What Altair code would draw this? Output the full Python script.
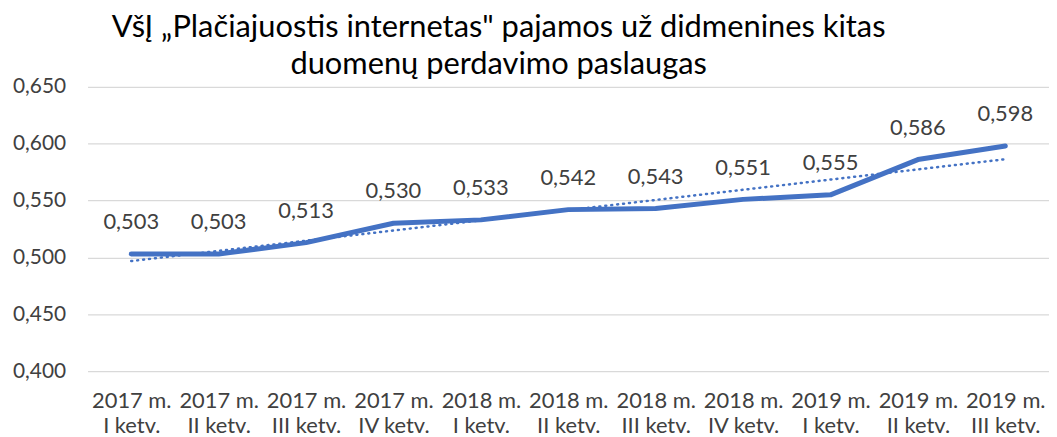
import altair as alt
import pandas as pd

years = ["2017 m.", "2017 m.", "2017 m.", "2017 m.", "2018 m.", "2018 m.", "2018 m.", "2018 m.", "2019 m.", "2019 m.", "2019 m."]
quarters = ["I ketv.", "II ketv.", "III ketv.", "IV ketv.", "I ketv.", "II ketv.", "III ketv.", "IV ketv.", "I ketv.", "II ketv.", "III ketv."]
values = [0.503, 0.503, 0.513, 0.530, 0.533, 0.542, 0.543, 0.551, 0.555, 0.586, 0.598]
title_lines = ["VšĮ  „Plačiajuostis internetas\" pajamos už didmenines kitas", "duomenų perdavimo paslaugas"]

labels = [f"{y}|{q}" for y, q in zip(years, quarters)]
df = pd.DataFrame({"idx": list(range(len(values))), "value": values, "label": labels})

FONT = "Lato"
COLOR = "#4472C4"
TXT = "#404040"

arr = "[" + ",".join("'" + l + "'" for l in labels) + "]"

x = alt.X(
    "idx:Q",
    scale=alt.Scale(domain=[-0.5, len(values) - 0.5], nice=False, zero=False),
    axis=alt.Axis(
        values=list(range(len(values))),
        labelExpr=f"split({arr}[datum.value], '|')",
        grid=False, domain=False, ticks=False, title=None,
        labelFont=FONT, labelFontSize=22, labelColor=TXT, labelPadding=20,
        labelLineHeight=25, labelBaseline="top",
    ),
)
y = alt.Y(
    "value:Q",
    scale=alt.Scale(domain=[0.4, 0.65], nice=False, zero=False),
    axis=alt.Axis(
        values=[0.4, 0.45, 0.5, 0.55, 0.6, 0.65],
        labelExpr="replace(format(datum.value, '.3f'), '.', ',')",
        grid=True, gridColor="#D9D9D9", gridWidth=1.2,
        domain=False, ticks=False, title=None,
        labelFont=FONT, labelFontSize=21, labelColor=TXT, labelPadding=22,
    ),
)

base = alt.Chart(df)
line = base.mark_line(color=COLOR, strokeWidth=5, strokeCap="round", strokeJoin="round").encode(x=x, y=y)
trend = base.transform_regression("idx", "value").mark_line(
    color=COLOR, strokeWidth=2.5, strokeDash=[1, 5], strokeCap="round"
).encode(x=x, y=y)
text = base.transform_calculate(
    lab="replace(format(datum.value, '.3f'), '.', ',')"
).mark_text(font=FONT, fontSize=22, color=TXT, dy=-32, baseline="middle").encode(
    x=x, y=y, text="lab:N"
)

chart = alt.layer(trend, line, text).properties(
    width=967,
    height=286,
    title=alt.TitleParams(
        text=title_lines, font=FONT, fontSize=31, fontWeight="normal", color="#000000",
        anchor="middle", frame="group", dx=-70, offset=-5, lineHeight=37,
    ),
    autosize=alt.AutoSizeParams(type="none"),
    padding={"left": 80, "top": 78, "right": 0, "bottom": 65},
).configure_view(stroke=None)

chart.save("out.html", embed_options={"renderer": "svg", "actions": False})
